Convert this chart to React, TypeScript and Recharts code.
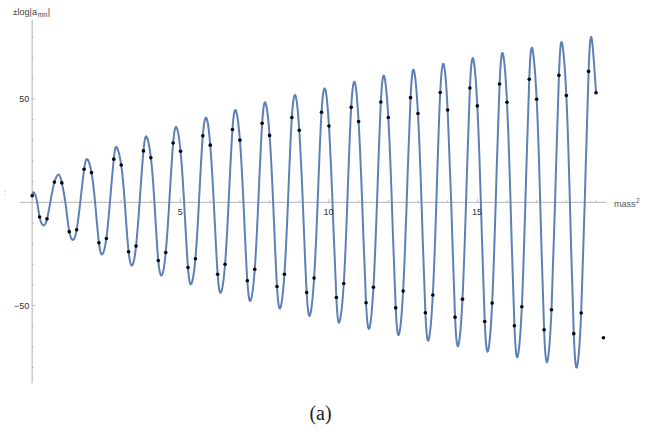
import React from 'react';
import { ComposedChart, Line, Scatter, XAxis, YAxis, ReferenceLine, ReferenceDot } from 'recharts';

// Sample points (black dots), grouped by their position within each unit of mass^2
// dots at x = n
const DOT_AT_N = [3.2, 9.4, 14.4, 18.1, 21.6, 24.7, 27.7, 30.1, 32.4, 34.9, 37.0, 39.1, 41.1, 43.0, 44.7, 46.7, 48.5, 49.9, 51.7, 53.1];
// dots at x = n + 0.25 (last one is the isolated point at 19.25)
const DOT_AT_N25 = [-7.1, -14.2, -19.6, -23.9, -28.2, -31.6, -34.8, -38.0, -40.8, -43.7, -46.1, -48.6, -51.1, -53.5, -55.6, -57.7, -59.8, -61.7, -63.6, -65.6];
// dots at x = n + 0.5
const DOT_AT_N50 = [-8.0, -13.3, -17.5, -21.2, -24.3, -27.3, -30.0, -32.4, -34.8, -36.7, -39.3, -41.1, -43.0, -44.9, -46.9, -48.8, -50.6, -52.0, -53.6];
// dots at x = n + 0.75
const DOT_AT_N75 = [9.8, 16.0, 20.9, 24.9, 28.7, 32.2, 35.3, 38.3, 41.1, 43.6, 46.0, 48.6, 50.7, 53.2, 55.4, 57.3, 59.6, 61.5, 63.4];

// Curve extrema
const PEAK_X = [0.06, 0.9, 1.86, 2.85, 3.86, 4.87, 5.88, 6.87, 7.87, 8.88, 9.88, 10.88, 11.87, 12.87, 13.88, 14.87, 15.87, 16.86, 17.86, 18.86];
const PEAK_Y = [4.8, 13.4, 20.8, 26.6, 31.7, 36.2, 40.6, 44.3, 47.9, 51.4, 54.6, 57.8, 60.7, 63.6, 66.3, 69.1, 71.6, 74.0, 76.8, 78.9];
const TROUGH_X = [0.38, 1.39, 2.37, 3.38, 4.38, 5.37, 6.37, 7.37, 8.37, 9.37, 10.36, 11.37, 12.37, 13.37, 14.37, 15.37, 16.37, 17.37, 18.37];
const TROUGH_Y = [-11.2, -18.1, -25.1, -30.4, -35.1, -39.3, -43.4, -47.2, -50.9, -54.3, -57.7, -60.6, -63.5, -66.2, -68.9, -71.5, -74.1, -76.5, -79.1];
// zero crossings of the curve
const ZERO_DOWN_X = [0.17, 1.12, 2.12, 3.12, 4.12, 5.12, 6.12, 7.12, 8.12, 9.12, 10.12, 11.12, 12.12, 13.12, 14.12, 15.12, 16.12, 17.12, 18.12];
const ZERO_UP_X = [0.61, 1.62, 2.62, 3.62, 4.62, 5.62, 6.62, 7.62, 8.62, 9.62, 10.62, 11.62, 12.62, 13.62, 14.62, 15.62, 16.62, 17.62, 18.62];

const CURVE_END_X = 19;

// Axis ticks and labels
const X_TICKS = [1, 2, 3, 4, 5, 6, 7, 8, 9, 10, 11, 12, 13, 14, 15, 16, 17, 18, 19];
const X_MAJOR = [5, 10, 15];
const X_TICK_LABELS = ['5', '10', '15'];
const Y_TICKS = [-80, -70, -60, -50, -40, -30, -20, -10, 10, 20, 30, 40, 50, 60, 70, 80];
const Y_MAJOR = [50, -50];
const Y_TICK_LABELS = ['50', '\u221250'];

type Pt = { x: number; y: number };

const dots: Pt[] = [];
DOT_AT_N.forEach((y, n) => dots.push({ x: n, y }));
DOT_AT_N25.forEach((y, n) => dots.push({ x: n + 0.25, y }));
DOT_AT_N50.forEach((y, n) => dots.push({ x: n + 0.5, y }));
DOT_AT_N75.forEach((y, n) => dots.push({ x: n + 0.75, y }));
dots.sort((a, b) => a.x - b.x);

const curve: Pt[] = [];
dots.forEach((d) => { if (d.x <= CURVE_END_X) curve.push(d); });
PEAK_X.forEach((x, i) => curve.push({ x, y: PEAK_Y[i] }));
TROUGH_X.forEach((x, i) => curve.push({ x, y: TROUGH_Y[i] }));
ZERO_DOWN_X.forEach((x) => curve.push({ x, y: 0 }));
ZERO_UP_X.forEach((x) => curve.push({ x, y: 0 }));
curve.sort((a, b) => a.x - b.x);

const FONT = '"Liberation Sans", Arial, sans-serif';
const AXIS_COLOR = '#c2c2c2';
const TICK_COLOR = '#b0b0b0';

const TextAt = (props: any) => {
  const { viewBox, dx = 0, dy = 0, anchor = 'start', size = 9, color = '#333', kind = 'plain', text = '' } = props;
  if (!viewBox) return null;
  const cx = viewBox.x + (viewBox.width || 0) / 2;
  const cy = viewBox.y + (viewBox.height || 0) / 2;
  const x = cx + dx;
  const y = cy + dy;
  if (kind === 'mass') {
    return (
      <g>
        <text x={x} y={y} textAnchor="start" fontSize={size} fill={color} fontFamily={FONT}>mass</text>
        <text x={x + 22} y={y - 4.5} textAnchor="start" fontSize={6.5} fill={color} fontFamily={FONT}>2</text>
      </g>
    );
  }
  if (kind === 'ylabel') {
    return (
      <g>
        <text x={x} y={y} textAnchor="start" fontSize={size} fill={color} fontFamily={FONT}>±log|a</text>
        <text x={x + 25} y={y + 2} textAnchor="start" fontSize={7} fill={color} fontFamily={FONT}>mn</text>
        <text x={x + 35.2} y={y} textAnchor="start" fontSize={size} fill={color} fontFamily={FONT}>|</text>
      </g>
    );
  }
  return (
    <text x={x} y={y} textAnchor={anchor} fontSize={size} fill={color} fontFamily={FONT}>
      {text}
    </text>
  );
};

const DotShape = (p: any) => <circle cx={p.cx} cy={p.cy} r={1.8} fill="#000" />;

export default function App() {
  return (
    <div style={{ position: 'absolute', left: 0, top: 0, width: 647, height: 429, background: '#fff', overflow: 'hidden' }}>
      <ComposedChart width={647} height={429} margin={{ top: 20, right: 40.3, bottom: 46, left: 20 }}>
        <XAxis type="number" dataKey="x" domain={[-0.41, 19.36]} hide allowDataOverflow />
        <YAxis type="number" dataKey="y" domain={[-87.5, 88.3]} hide allowDataOverflow />
        <ReferenceLine y={0} stroke={AXIS_COLOR} strokeWidth={1.2} />
        <ReferenceLine x={0} stroke={AXIS_COLOR} strokeWidth={1.3} />
        {X_TICKS.map((t) => (
          <ReferenceLine
            key={'xt' + t}
            segment={[{ x: t, y: 0 }, { x: t, y: X_MAJOR.includes(t) ? 1.7 : 1.0 }]}
            stroke={TICK_COLOR}
            strokeWidth={0.8}
          />
        ))}
        {Y_TICKS.map((t) => (
          <ReferenceLine
            key={'yt' + t}
            segment={[{ x: 0, y: t }, { x: Y_MAJOR.includes(t) ? 0.1 : 0.06, y: t }]}
            stroke={TICK_COLOR}
            strokeWidth={0.8}
          />
        ))}
        <Line
          data={curve}
          dataKey="y"
          type="natural"
          stroke="#5E81B5"
          strokeWidth={2}
          dot={false}
          activeDot={false}
          isAnimationActive={false}
        />
        <Scatter data={dots} dataKey="y" shape={DotShape} isAnimationActive={false} />
        {X_MAJOR.map((t, i) => (
          <ReferenceDot key={'xl' + t} x={t} y={0} r={1} fill="none" stroke="none"
            label={<TextAt dx={-0.3} dy={12.5} anchor="middle" text={X_TICK_LABELS[i]} />} />
        ))}
        {Y_MAJOR.map((t, i) => (
          <ReferenceDot key={'yl' + t} x={0} y={t} r={1} fill="none" stroke="none"
            label={<TextAt dx={-3} dy={3.4} anchor="end" text={Y_TICK_LABELS[i]} />} />
        ))}
        <ReferenceDot x={19.36} y={0} r={1} fill="none" stroke="none"
          label={<TextAt kind="mass" dx={7.3} dy={5} color="#555" />} />
        <ReferenceDot x={0} y={88.3} r={1} fill="none" stroke="none"
          label={<TextAt kind="ylabel" dx={-19.5} dy={-5.5} color="#444" />} />
      </ComposedChart>
      <div style={{ position: 'absolute', left: 4, top: 189, fontSize: 7, color: '#5E81B5', fontFamily: FONT, lineHeight: '7px' }}>:</div>
      <div style={{ position: 'absolute', left: 0, top: 401, width: 647, textAlign: 'center', fontFamily: '"Liberation Serif", "Times New Roman", serif', fontSize: 20, color: '#222', lineHeight: '24px' }}>
        <span style={{ position: 'relative', left: -3 }}>(a)</span>
      </div>
    </div>
  );
}
